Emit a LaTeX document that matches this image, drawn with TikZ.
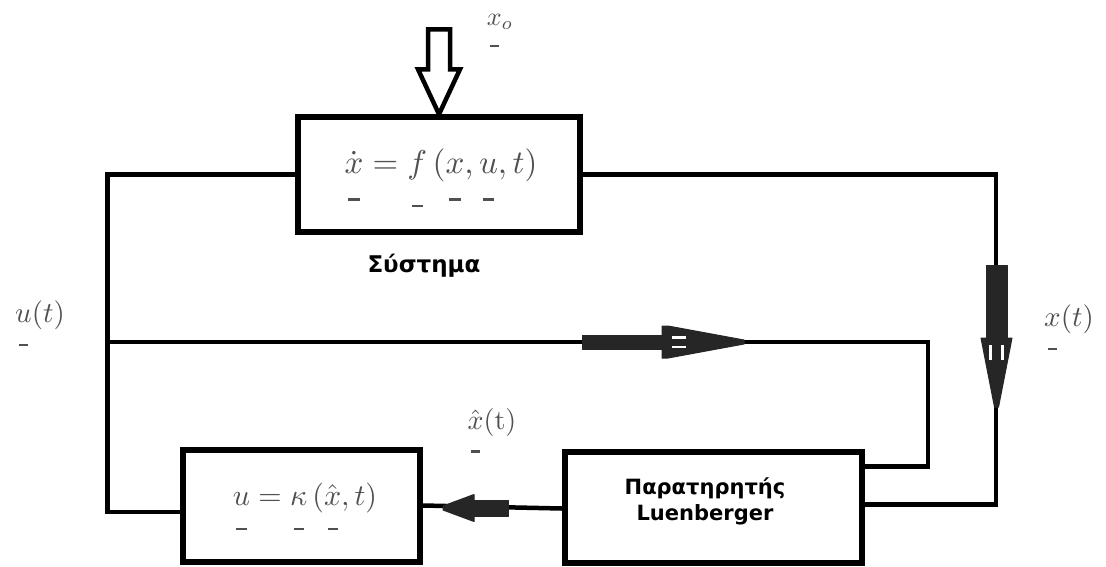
\documentclass[tikz,border=0pt]{standalone}
\usepackage{amsmath}
\usepackage{fontspec}
\newfontfamily\grsans{DejaVu Sans}
\usetikzlibrary{calc}
\newcommand{\vc}[1]{\underset{\raisebox{-2.2pt}{\rule{0.34em}{0.08em}}}{#1}}
\newcommand{\bigmth}[2]{\scalebox{#1}{$#2$}}
\definecolor{mgray}{HTML}{505050}
\tikzset{
  blk/.style={draw=black, line width=5.5pt, fill=white, inner sep=0pt},
  conn/.style={draw=black, line width=4.5pt, line join=miter},
  mth/.style={text=mgray, inner sep=0pt},
  lbl/.style={text=black, font=\grsans\bfseries\fontsize{21}{26}\selectfont, inner sep=0pt, align=center},
  arrfill/.style={fill=black!85, draw=black!85, line width=1pt, line join=round},
  slot/.style={draw=white, line width=2.5pt}
}
\begin{document}
\begin{tikzpicture}[x=1pt,y=-1pt]
\useasboundingbox[fill=white] (0,0) rectangle (1106,566);
% blocks
\node[blk, minimum width=282pt, minimum height=115pt] (sys) at (439,174.5) {};
\node[blk, minimum width=237pt, minimum height=112pt] (ctrl) at (301.5,506) {};
\node[blk, minimum width=297pt, minimum height=111pt] (obs) at (713.5,507.5) {};
% coordinates
\coordinate (jL) at (107.5,342);
\coordinate (xr) at (996,0);
\coordinate (xm) at (928,0);
% connectors
\draw[conn] (sys.west) -| (jL) |- ([yshift=-6pt]ctrl.west);
\draw[conn] (jL) -| ([yshift=41pt]obs.east -| xm) -- ([yshift=41pt]obs.east);
\draw[conn] (sys.east) -| ([yshift=3pt]obs.east -| xr) -- ([yshift=3pt]obs.east);
\draw[conn] ([yshift=-1pt]obs.west) -- ([yshift=0.5pt]ctrl.east);
% input arrow (hollow)
\coordinate (tipIn) at (sys.north);
\draw[black, line width=4.5pt, fill=white, line join=miter]
  ($(tipIn)+(-11,-85)$) -- ($(tipIn)+(11,-85)$) -- ($(tipIn)+(11,-45)$) -- ($(tipIn)+(21,-45)$)
  -- (tipIn) -- ($(tipIn)+(-21,-45)$) -- ($(tipIn)+(-11,-45)$) -- cycle;
% middle arrow
\fill[arrfill] (582,335) rectangle (665,349);
\fill[arrfill] (662,326) -- (668,326) -- (744,340) -- (744,344) -- (668,358) -- (662,358) -- cycle;
\draw[slot] (672,337.5) -- (686,337.5);
\draw[slot] (672,347) -- (686,347);
% vertical arrow on right
\fill[arrfill] (986,265) rectangle (1007,340);
\fill[arrfill] (981,338) -- (1012,338) -- (998.5,407) -- (994.5,407) -- cycle;
\draw[slot] (990.5,345) -- (990.5,360);
\draw[slot] (1002.5,345) -- (1002.5,360);
% bottom arrow (pointing left)
\fill[arrfill] (472,500) rectangle (508,516);
\fill[arrfill] (474,494.5) -- (443,506) -- (443,510) -- (474,521.5) -- cycle;
% texts
\node[mth] (sysf) at (441,180) {\bigmth{3.3}{\dot{\vc{x}} = \vc{f}\,(\vc{x},\vc{u},t)}};
\node[mth] (ctrlf) at (305,508) {\bigmth{3.0}{\vc{u} = \vc{\kappa}\,(\hat{\vc{x}},t)}};
\node[lbl, font=\grsans\bfseries\fontsize{23}{26}\selectfont] (syslbl) at (424,266) {Σύστημα};
\node[lbl] (obslbl) at (705,501) {Παρατηρητής\\Luenberger};
\node[mth] (x0) at (500,32) {\bigmth{2.6}{\vc{x}{}_{o}}};
\node[mth] (ut) at (40,325) {\bigmth{2.9}{\vc{u}(t)}};
\node[mth] (xt) at (1069,329) {\bigmth{2.9}{\vc{x}(t)}};
\node[mth] (xh) at (492,432) {\bigmth{2.8}{\hat{\vc{x}}(\mathrm{t})}};
\end{tikzpicture}
\end{document}
